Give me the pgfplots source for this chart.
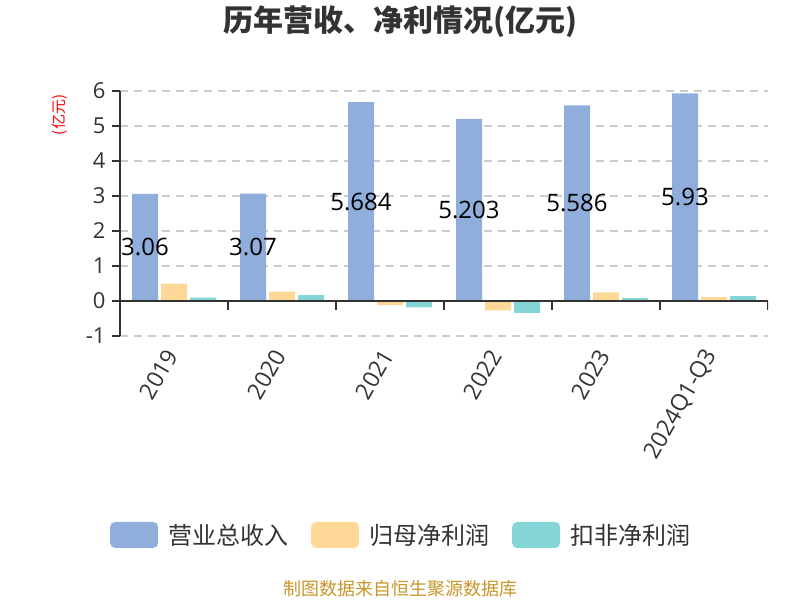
\documentclass[border=0pt]{standalone}
\usepackage{pgfplots}
\pgfplotsset{compat=1.18}
\usepackage{fontspec}
\setmainfont{Open Sans}
\newfontfamily\cjk{Noto Sans CJK SC}
\definecolor{cblue}{HTML}{8FAEDB}
\definecolor{corange}{HTML}{FFD897}
\definecolor{cteal}{HTML}{84D5D6}
\definecolor{txt}{HTML}{333333}
\definecolor{gold}{HTML}{C8962A}
\definecolor{gridc}{HTML}{CCCCCC}
\pgfplotsset{mylegend/.style={legend image code/.code={\fill[##1, draw=none, rounded corners=5bp] (0bp,-13bp) rectangle (48bp,13bp);}}}
\begin{document}
\begin{tikzpicture}
\path[use as bounding box] (0,0) rectangle (800bp,600bp);
\node[font=\cjk\bfseries\fontsize{30bp}{34bp}\selectfont, text=txt] at (400bp,578bp) {历年营收、净利情况(亿元)};
\node[font=\cjk\fontsize{15bp}{17bp}\selectfont, text=red, rotate=90] at (60bp,485bp) {(亿元)};
\node[font=\cjk\fontsize{18bp}{21bp}\selectfont, text=gold] at (400bp,11bp) {制图数据来自恒生聚源数据库};
\begin{axis}[
  at={(120bp,264bp)}, anchor=south west,
  scale only axis, width=648bp, height=245bp,
  xmin=-0.5, xmax=5.5, ymin=-1, ymax=6,
  axis y line*=left,
  axis x line*=bottom,
  x axis line style={draw=none},
  y axis line style={txt, line width=1.5bp, -},
  xtick={0,1,2,3,4,5},
  xticklabels={2019,2020,2021,2022,2023,2024Q1-Q3},
  xtick style={draw=none},
  xticklabel style={rotate=60, anchor=east, font=\fontsize{23bp}{26bp}\selectfont, text=txt, xshift=-4bp, yshift=-2bp},
  ytick={-1,0,1,2,3,4,5,6},
  ytick style={txt, line width=1.5bp},
  tick align=outside,
  major tick length=8bp,
  yticklabel style={font=\fontsize{22bp}{26bp}\selectfont, text=txt, xshift=-3bp},
  /pgf/number format/assume math mode=true,
  ymajorgrids,
  grid style={gridc, line width=1.2bp, dash pattern=on 8bp off 6bp},
  legend style={at={(0.44,-0.812)}, anchor=center, draw=none, fill=none,
    legend columns=3, font=\cjk\fontsize{24bp}{28bp}\selectfont, text=txt,
    /tikz/every even column/.append style={column sep=13bp},
    nodes={inner xsep=10bp}},
]
\addplot[ybar, bar width=26bp, bar shift=-29bp, fill=cblue, draw=none, mylegend,
  nodes near coords={\pgfmathprintnumber[fixed,precision=3]{\pgfplotspointmeta}},
  visualization depends on={rawy \as \ry},
  every node near coord/.append style={anchor=center, xshift=-29bp, yshift=-\ry*17.5bp, text=black, font=\fontsize{24bp}{27bp}\selectfont}]
  coordinates {(0,3.06) (1,3.07) (2,5.684) (3,5.203) (4,5.586) (5,5.93)};
\addlegendentry{营业总收入}
\addplot[ybar, bar width=26bp, bar shift=0bp, fill=corange, draw=none, mylegend]
  coordinates {(0,0.50) (1,0.27) (2,-0.12) (3,-0.27) (4,0.25) (5,0.11)};
\addlegendentry{归母净利润}
\addplot[ybar, bar width=26bp, bar shift=29bp, fill=cteal, draw=none, mylegend]
  coordinates {(0,0.10) (1,0.17) (2,-0.18) (3,-0.34) (4,0.08) (5,0.14)};
\addlegendentry{扣非净利润}
\draw[txt, line width=1.5bp] (axis cs:-0.5,0) -- (axis cs:5.5,0);
\draw[txt, line width=1.5bp] (axis cs:0.5,0) -- ([yshift=-9bp]axis cs:0.5,0);
\draw[txt, line width=1.5bp] (axis cs:1.5,0) -- ([yshift=-9bp]axis cs:1.5,0);
\draw[txt, line width=1.5bp] (axis cs:2.5,0) -- ([yshift=-9bp]axis cs:2.5,0);
\draw[txt, line width=1.5bp] (axis cs:3.5,0) -- ([yshift=-9bp]axis cs:3.5,0);
\draw[txt, line width=1.5bp] (axis cs:4.5,0) -- ([yshift=-9bp]axis cs:4.5,0);
\draw[txt, line width=1.5bp] (axis cs:5.5,0) -- ([yshift=-9bp]axis cs:5.5,0);
\end{axis}
\end{tikzpicture}
\end{document}
